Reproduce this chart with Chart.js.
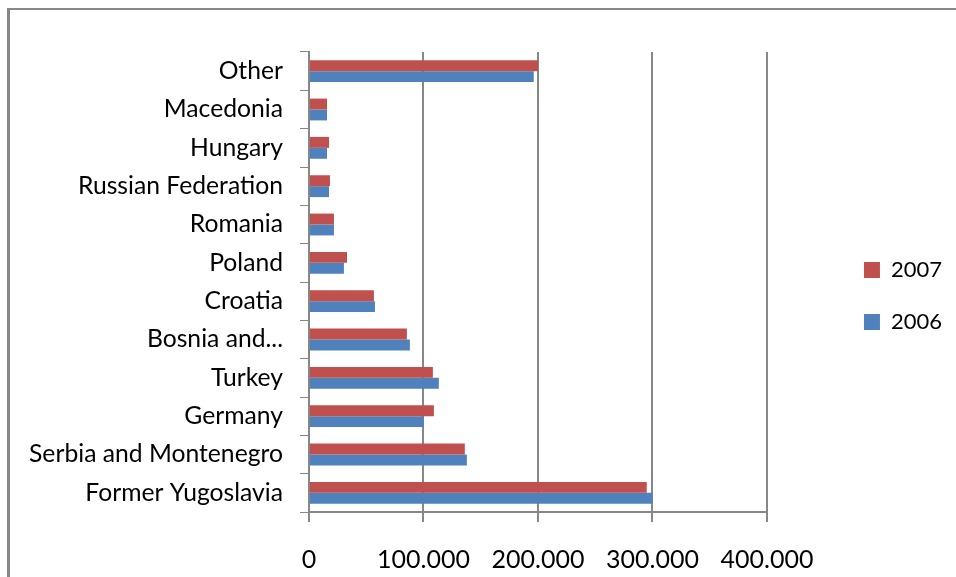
<!DOCTYPE html>
<html>
<head>
<meta charset="utf-8">
<script src="https://cdn.jsdelivr.net/npm/chart.js@4/dist/chart.umd.min.js"></script>
<style>
    html, body { margin: 0; padding: 0; background: #fff; overflow: hidden; }
    .frame {
        position: absolute; left: 7px; top: 8px; width: 2000px; height: 2000px;
        border-left: 3px solid #878787; border-top: 2px solid #878787;
    }
    #chart-area { position: absolute; left: 0; top: 0; }
</style>
</head>
<body>
<div class="frame"></div>
<canvas id="chart-area" width="956" height="600"></canvas>
<script>
var categories = [
    'Other', 'Macedonia', 'Hungary', 'Russian Federation', 'Romania', 'Poland',
    'Croatia', 'Bosnia and...', 'Turkey', 'Germany', 'Serbia and Montenegro', 'Former Yugoslavia'
];
var values2007 = [200000, 15700, 17500, 18300, 21800, 33200, 56700, 85500, 108200, 109100, 136100, 295000];
var values2006 = [196300, 15700, 15700, 17500, 21800, 30500, 57600, 88100, 113400, 100300, 137900, 300000];
var xTicks = [0, 100000, 200000, 300000, 400000];

var gridGrey = '#878787';

Chart.defaults.font.family = 'Lato';
Chart.defaults.color = '#000';

// the legend sits further right than the layout would put it
var legendShift = {
    id: 'legendShift',
    afterLayout: function (chart) {
        var lg = chart.legend;
        lg.left += 67;
        lg.right += 67;
        lg.top -= 29;
        lg.bottom -= 29;
    }
};

var config = {
    type: 'bar',
    data: {
        labels: categories,
        datasets: [{
            label: '2007',
            data: values2007,
            backgroundColor: '#C0504D',
            categoryPercentage: 0.57,
            barPercentage: 1.0
        }, {
            label: '2006',
            data: values2006,
            backgroundColor: '#4F81BD',
            categoryPercentage: 0.57,
            barPercentage: 1.0
        }]
    },
    options: {
        indexAxis: 'y',
        responsive: false,
        animation: false,
        layout: {
            padding: { top: 52, right: 71, bottom: 2, left: 0 }
        },
        scales: {
            x: {
                min: xTicks[0],
                max: xTicks[xTicks.length - 1],
                afterBuildTicks: function (scale) {
                    scale.ticks = xTicks.map(function (v) { return { value: v }; });
                },
                ticks: {
                    font: { size: 25 },
                    padding: 23,
                    callback: function (v) {
                        return String(v).replace(/\B(?=(\d{3})+(?!\d))/g, '.');
                    }
                },
                grid: { color: gridGrey, lineWidth: 2, tickLength: 10 },
                border: { color: gridGrey, width: 2 }
            },
            y: {
                afterFit: function (scale) { scale.width = 309; },
                ticks: { font: { size: 24.7 }, padding: 17, autoSkip: false },
                grid: { drawOnChartArea: false, color: gridGrey, lineWidth: 1, tickLength: 9 },
                border: { color: gridGrey, width: 2 }
            }
        },
        plugins: {
            legend: {
                position: 'right',
                labels: {
                    boxWidth: 16,
                    boxHeight: 16,
                    padding: 30,
                    font: { size: 22 }
                }
            },
            tooltip: { enabled: false }
        }
    },
    plugins: [legendShift]
};

var ctx = document.getElementById('chart-area').getContext('2d');
window.myBar = new Chart(ctx, config);
</script>
</body>
</html>
